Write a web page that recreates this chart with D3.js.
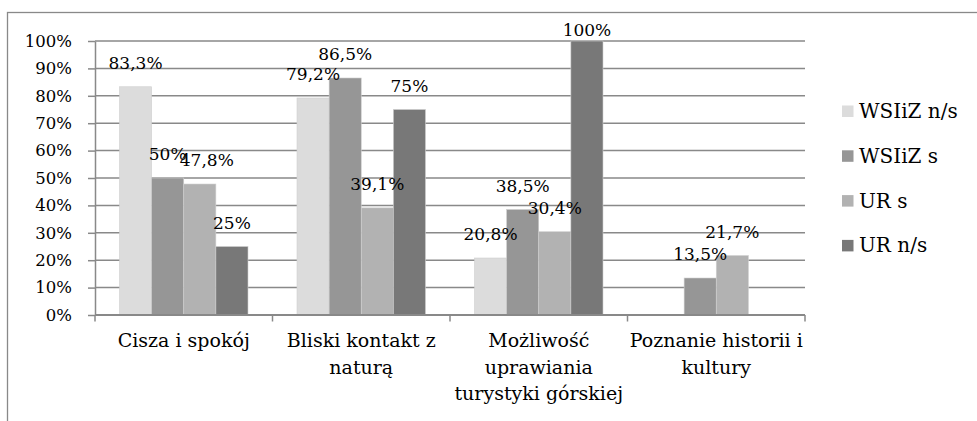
<!DOCTYPE html>
<html>
<head>
<meta charset="utf-8">
<script src="https://cdn.jsdelivr.net/npm/d3@7"></script>
<style>
  body { margin: 0; background: #fff; }
  text { font-family: "DejaVu Serif", serif; fill: #000; }
</style>
</head>
<body>
<div id="chart"></div>
<script>
// ---- data ----
const categories = ['Cisza i spokój', 'Bliski kontakt z naturą', 'Możliwość uprawiania turystyki górskiej', 'Poznanie historii i kultury'];
// how each category label breaks into lines
const categoryLines = [
  ['Cisza i spokój'],
  ['Bliski kontakt z', 'naturą'],
  ['Możliwość', 'uprawiania', 'turystyki górskiej'],
  ['Poznanie historii i', 'kultury']
];
const seriesNames = ['WSIiZ n/s', 'WSIiZ s', 'UR s', 'UR n/s'];
const wsizNs = [83.3, 79.2, 20.8, null];
const wsizS = [50, 86.5, 38.5, 13.5];
const urS = [47.8, 39.1, 30.4, 21.7];
const urNs = [25, 75, 100, null];
const yTicks = [0, 10, 20, 30, 40, 50, 60, 70, 80, 90, 100];

const seriesValues = [wsizNs, wsizS, urS, urNs];

class GroupedBars {

  constructor(_config) {
    this.config = {
      parentElement: _config.parentElement,
      containerWidth: 977,
      containerHeight: 421,
      margin: {top: 41, left: 95},
      width: 710,
      height: 274,
      colors: ['#dcdcdc', '#969696', '#b2b2b2', '#787878'],
      lineColor: '#898989'
    };
    this.initVis();
  }

  initVis() {
    let vis = this;
    const c = vis.config;

    vis.svg = d3.select(c.parentElement).append('svg')
      .attr('width', c.containerWidth)
      .attr('height', c.containerHeight);

    // outer chart frame, runs off the right and bottom edges
    vis.svg.append('rect')
      .attr('x', 7.5).attr('y', 12.5)
      .attr('width', 1100).attr('height', 600)
      .attr('fill', 'none')
      .attr('stroke', c.lineColor)
      .attr('stroke-width', 1.3);

    vis.chart = vis.svg.append('g')
      .attr('transform', `translate(${c.margin.left},${c.margin.top})`);

    vis.xScale = d3.scaleBand()
      .domain(categories)
      .range([0, c.width])
      .padding(0);

    // bars take up the middle of each category band
    vis.xSub = d3.scaleBand()
      .domain(seriesNames)
      .range([24.5, vis.xScale.bandwidth() - 24.5])
      .padding(0);

    vis.yScale = d3.scaleLinear()
      .domain([0, 100])
      .range([c.height, 0]);

    const pl = d3.formatLocale({decimal: ',', thousands: ' ', grouping: [3], currency: ['', '']});
    vis.fmt = pl.format('.1~f');

    vis.renderVis();
  }

  renderVis() {
    let vis = this;
    const c = vis.config;

    // gridlines
    vis.chart.append('g')
      .selectAll('line')
      .data(yTicks)
      .join('line')
        .attr('x1', 0).attr('x2', c.width)
        .attr('y1', d => vis.yScale(d)).attr('y2', d => vis.yScale(d))
        .attr('stroke', c.lineColor)
        .attr('stroke-width', 1.5);

    // y axis
    const yAxis = d3.axisLeft(vis.yScale)
      .tickValues(yTicks)
      .tickFormat(d => d + '%')
      .tickSize(7)
      .tickPadding(16)
      .tickSizeOuter(0);

    vis.chart.append('g')
      .call(yAxis)
      .call(g => g.selectAll('.tick line').attr('stroke', c.lineColor).attr('stroke-width', 1.5))
      .call(g => g.select('.domain').attr('stroke', c.lineColor).attr('stroke-width', 1.5))
      .call(g => g.selectAll('.tick text')
        .attr('font-family', '"DejaVu Serif", serif')
        .attr('font-size', 16.5)
        .attr('fill', '#000'));

    // bars
    const groups = vis.chart.selectAll('.cat')
      .data(categories)
      .join('g')
        .attr('class', 'cat')
        .attr('transform', d => `translate(${vis.xScale(d)},0)`);

    const barData = (d, i) => seriesNames.map((s, j) => ({series: s, idx: j, value: seriesValues[j][i]}))
      .filter(b => b.value != null);

    groups.selectAll('rect')
      .data(barData)
      .join('rect')
        .attr('x', d => vis.xSub(d.series))
        .attr('width', vis.xSub.bandwidth())
        .attr('y', d => vis.yScale(d.value))
        .attr('height', d => c.height - vis.yScale(d.value))
        .attr('fill', d => c.colors[d.idx])
        .attr('stroke', '#cfcfcf')
        .attr('stroke-width', 0.6);

    // x axis line and band separators
    const xAxisG = vis.chart.append('g')
      .attr('transform', `translate(0,${c.height})`);

    xAxisG.append('line')
      .attr('x1', 0).attr('x2', c.width)
      .attr('stroke', c.lineColor).attr('stroke-width', 1.8);

    xAxisG.selectAll('.sep')
      .data(d3.range(categories.length + 1))
      .join('line')
        .attr('class', 'sep')
        .attr('x1', i => i * vis.xScale.step())
        .attr('x2', i => i * vis.xScale.step())
        .attr('y1', 0).attr('y2', 6.5)
        .attr('stroke', c.lineColor).attr('stroke-width', 1.5);

    // category labels
    xAxisG.selectAll('.cat-label')
      .data(categories)
      .join('text')
        .attr('class', 'cat-label')
        .attr('text-anchor', 'middle')
        .attr('font-size', 19)
        .attr('transform', d => `translate(${vis.xScale(d) + vis.xScale.bandwidth() / 2},32)`)
        .selectAll('tspan')
        .data((d, i) => categoryLines[i])
        .join('tspan')
          .attr('x', 0)
          .attr('y', (d, k) => k * 26.5)
          .text(d => d);

    // value labels above bars; kept inside the frame near the top
    groups.selectAll('.val')
      .data(barData)
      .join('text')
        .attr('class', 'val')
        .attr('text-anchor', 'middle')
        .attr('font-size', 17)
        .attr('x', d => vis.xSub(d.series) + vis.xSub.bandwidth() / 2 + (d.value === 47.8 ? 7 : 0))
        .attr('y', d => Math.max(vis.yScale(d.value) - 18, -5))
        .text(d => vis.fmt(d.value) + '%');

    // legend
    const legend = vis.svg.append('g')
      .attr('transform', 'translate(842,111)');

    const items = legend.selectAll('g')
      .data(seriesNames)
      .join('g')
        .attr('transform', (d, i) => `translate(0,${i * 44.8})`);

    items.append('rect')
      .attr('x', 0).attr('y', -5.5)
      .attr('width', 11.5).attr('height', 11.5)
      .attr('fill', (d, i) => c.colors[i]);

    items.append('text')
      .attr('x', 17)
      .attr('y', 7)
      .attr('font-size', 20)
      .text(d => d);
  }
}

new GroupedBars({parentElement: '#chart'});
</script>
</body>
</html>
